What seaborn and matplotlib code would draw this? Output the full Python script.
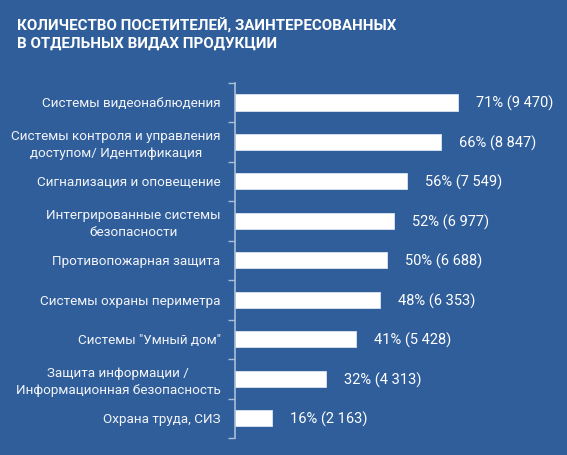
import matplotlib
matplotlib.use("Agg")
import matplotlib.pyplot as plt
import seaborn as sns
import pandas as pd
from matplotlib.ticker import FixedLocator

categories = [
    "Системы видеонаблюдения",
    "Системы контроля и управления\nдоступом/ Идентификация",
    "Сигнализация и оповещение",
    "Интегрированные системы\nбезопасности",
    "Противопожарная защита",
    "Системы охраны периметра",
    "Системы \"Умный дом\"",
    "Защита информации /\nИнформационная безопасность",
    "Охрана труда, СИЗ",
]
percents = [71, 66, 56, 52, 50, 48, 41, 32, 16]
counts = [9470, 8847, 7549, 6977, 6688, 6353, 5428, 4313, 2163]
title = "КОЛИЧЕСТВО ПОСЕТИТЕЛЕЙ, ЗАИНТЕРЕСОВАННЫХ\nВ ОТДЕЛЬНЫХ ВИДАХ ПРОДУКЦИИ"

df = pd.DataFrame({"cat": categories, "pct": percents, "cnt": counts})

BG = "#2F5E9B"
SPINE = "#A9BDD8"

sns.set_theme(style="white")
plt.rcParams["font.family"] = ["Roboto", "DejaVu Sans"]

fig = plt.figure(figsize=(5.67, 4.55), dpi=100, facecolor=BG)
ax = fig.add_axes([234.5 / 567, 1 - 438 / 455, 1 - 234.5 / 567, (438 - 82.7) / 455])
ax.set_facecolor(BG)

sns.barplot(data=df, x="pct", y="cat", orient="h", color="white",
            edgecolor="#DCE5F1", linewidth=0.6, width=0.41, saturation=1, ax=ax)

ax.set_xlim(5.05, 5.05 + 332.5 / 3.39)
ax.set_ylim(len(categories) - 0.5, -0.5)
ax.set_xlabel("")
ax.set_ylabel("")
ax.set_xticks([])

for s in ["top", "right", "bottom"]:
    ax.spines[s].set_visible(False)
ax.spines["left"].set_color(SPINE)
ax.spines["left"].set_linewidth(1.2)

ax.yaxis.set_minor_locator(FixedLocator([i - 0.5 for i in range(len(categories) + 1)]))
ax.tick_params(axis="y", which="minor", length=5, width=1.0, color=SPINE, direction="out", left=True)
ax.tick_params(axis="y", which="major", length=0, pad=10)

for lbl in ax.get_yticklabels():
    lbl.set_fontfamily(["Roboto", "DejaVu Sans"])
    lbl.set_fontsize(9.7)
    lbl.set_color("#F2F4F8")
    lbl.set_multialignment("center")
    lbl.set_linespacing(1.35)

for i, (p, c) in enumerate(zip(percents, counts)):
    txt = f"{p}% ({c:,})".replace(",", " ")
    ax.annotate(txt, xy=(p, i), xytext=(13, -1), textcoords="offset points",
                ha="left", va="center", color="white", fontsize=10.5,
                fontfamily=["Roboto", "DejaVu Sans"])

fig.text(17 / 567, 1 - 18 / 455, title, ha="left", va="top", color="white",
         fontsize=10.9, fontweight="bold", fontfamily=["Roboto", "DejaVu Sans"],
         linespacing=1.3)

fig.savefig("out.png", dpi=100, facecolor=BG)
